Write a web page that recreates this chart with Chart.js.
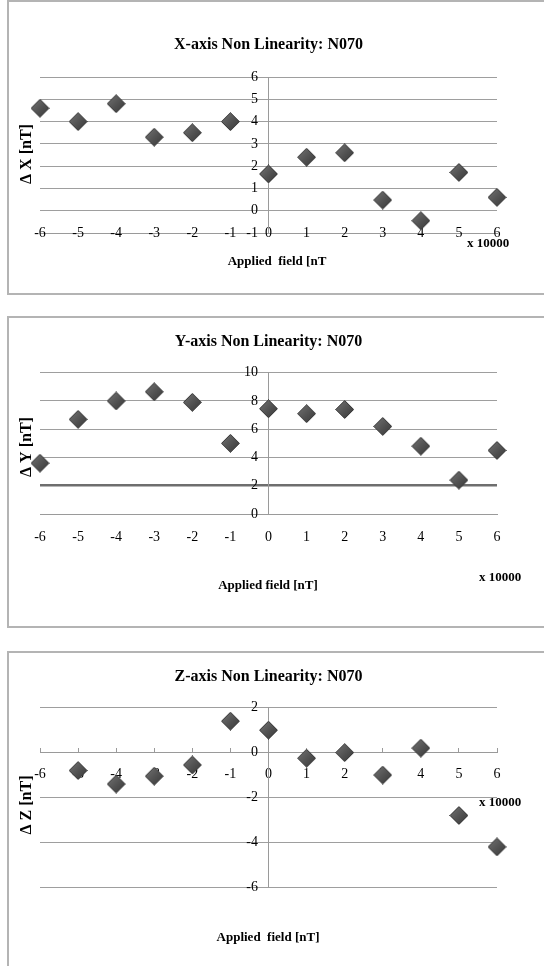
<!DOCTYPE html>
<html>
<head>
<meta charset="utf-8">
<script src="https://cdn.jsdelivr.net/npm/chart.js@4"></script>
<style>
  body { margin: 0; background: #fff; width: 544px; height: 966px; overflow: hidden; position: relative; }
  .box { position: absolute; left: 7px; width: 600px; border: 2px solid #b4b4b4; box-sizing: border-box; }
  canvas { position: absolute; left: 9px; }
</style>
</head>
<body>
<div class="box" style="top:0px;height:295px"></div>
<div class="box" style="top:316px;height:312px"></div>
<div class="box" style="top:651px;height:400px"></div>
<canvas id="chartX" width="535" height="290" style="top:2px"></canvas>
<canvas id="chartY" width="535" height="307" style="top:318px"></canvas>
<canvas id="chartZ" width="535" height="312" style="top:654px"></canvas>
<script>
const fieldSteps = [-6, -5, -4, -3, -2, -1, 0, 1, 2, 3, 4, 5, 6]
const dxValues = [4.6, 4.0, 4.8, 3.3, 3.5, 4.0, 1.65, 2.4, 2.6, 0.48, -0.45, 1.72, 0.6]
const dyValues = [3.6, 6.7, 8.0, 8.65, 7.9, 5.0, 7.45, 7.1, 7.4, 6.2, 4.8, 2.4, 4.5]
const dzValues = [null, -0.8, -1.4, -1.05, -0.55, 1.4, 1.0, -0.25, 0.0, -1.0, 0.2, -2.8, -4.2]

const serif = "'Liberation Serif', 'Times New Roman', serif"
Chart.defaults.font.family = serif
Chart.defaults.color = '#000'

// shaded diamond used as point style
function makeDiamond() {
    const size = 19
    const c = document.createElement('canvas')
    c.width = size
    c.height = size
    const g = c.getContext('2d')
    const h = size / 2
    const grad = g.createLinearGradient(0, 0, size, size)
    grad.addColorStop(0, '#767676')
    grad.addColorStop(0.5, '#545454')
    grad.addColorStop(1, '#363636')
    g.beginPath()
    g.moveTo(h, 0.5)
    g.lineTo(size - 0.5, h)
    g.lineTo(h, size - 0.5)
    g.lineTo(0.5, h)
    g.closePath()
    g.fillStyle = grad
    g.fill()
    g.strokeStyle = '#3a3a3a'
    g.lineWidth = 1
    g.stroke()
    return c
}
const diamond = makeDiamond()

const textLabels = {
    id: 'textLabels',
    afterDraw(chart, args, opts) {
        const ctx = chart.ctx
        for (const item of opts.items || []) {
            ctx.save()
            ctx.font = item.font
            ctx.fillStyle = '#000'
            ctx.textAlign = 'center'
            ctx.textBaseline = 'middle'
            ctx.translate(item.x, item.y)
            if (item.rotate) ctx.rotate(item.rotate)
            ctx.fillText(item.text, 0, 0)
            ctx.restore()
        }
    }
}

function makeData(values) {
    return fieldSteps.map((x, i) => ({ x: x, y: values[i] })).filter(p => p.y !== null)
}

function drawChart(id, cfg) {
    const grid = cfg.grid || {}
    const isDark = ctx => grid.dark !== undefined && ctx.tick && ctx.tick.value === grid.dark
    new Chart(document.getElementById(id), {
        type: 'scatter',
        data: {
            datasets: [{
                data: makeData(cfg.values),
                pointStyle: diamond,
                pointRadius: 9,
                clip: false
            }]
        },
        options: {
            responsive: false,
            animation: false,
            devicePixelRatio: 1,
            layout: { padding: { left: 31, right: 47, top: 0, bottom: cfg.padBottom } },
            plugins: {
                legend: { display: false },
                tooltip: { enabled: false },
                title: {
                    display: true,
                    text: cfg.title,
                    font: { size: 16, weight: 'bold' },
                    padding: cfg.titlePad
                },
                textLabels: { items: cfg.labels }
            },
            scales: {
                x: {
                    type: 'linear',
                    position: { y: cfg.xAt },
                    min: -6,
                    max: 6,
                    ticks: { stepSize: 1, padding: cfg.xPad, font: { size: 14 } },
                    grid: {
                        display: cfg.xTicks,
                        drawOnChartArea: false,
                        drawTicks: cfg.xTicks,
                        tickLength: -5,
                        color: '#9a9a9a'
                    },
                    border: { display: true, color: '#9a9a9a', width: 1 }
                },
                y: {
                    type: 'linear',
                    position: { x: 0 },
                    min: cfg.yMin,
                    max: cfg.yMax,
                    ticks: {
                        stepSize: cfg.yStep,
                        font: { size: 14 },
                        callback: v => v + '   '
                    },
                    grid: {
                        drawTicks: false,
                        color: ctx => isDark(ctx) ? '#6e6e6e' : '#9e9e9e',
                        lineWidth: ctx => isDark(ctx) ? 2.5 : 1
                    },
                    border: { display: true, color: '#9a9a9a', width: 1 }
                }
            }
        },
        plugins: [textLabels]
    })
}

const bold13 = 'bold 13px ' + serif
const bold16 = 'bold 16px ' + serif

drawChart('chartX', {
    title: 'X-axis Non Linearity: N070',
    values: dxValues,
    titlePad: { top: 33.4, bottom: 22.4 },
    padBottom: 59,
    xAt: -1, xPad: -8, xTicks: false,
    yMin: -1, yMax: 6, yStep: 1,
    labels: [
        { text: 'Δ X [nT]', x: 18, y: 152, font: bold16, rotate: -Math.PI / 2 },
        { text: 'Applied  field [nT', x: 268, y: 260, font: bold13 },
        { text: 'x 10000', x: 479, y: 242, font: bold13 }
    ]
})

drawChart('chartY', {
    title: 'Y-axis Non Linearity: N070',
    values: dyValues,
    titlePad: { top: 14.4, bottom: 21.1 },
    padBottom: 111,
    xAt: 0, xPad: 15, xTicks: false,
    yMin: 0, yMax: 10, yStep: 2,
    grid: { dark: 2 },
    labels: [
        { text: 'Δ Y [nT]', x: 18, y: 129, font: bold16, rotate: -Math.PI / 2 },
        { text: 'Applied field [nT]', x: 259, y: 268, font: bold13 },
        { text: 'x 10000', x: 491, y: 260, font: bold13 }
    ]
})

drawChart('chartZ', {
    title: 'Z-axis Non Linearity: N070',
    values: dzValues,
    titlePad: { top: 13.4, bottom: 21.1 },
    padBottom: 78.7,
    xAt: 0, xPad: 18, xTicks: true,
    yMin: -6, yMax: 2, yStep: 2,
    labels: [
        { text: 'Δ Z [nT]', x: 18, y: 151, font: bold16, rotate: -Math.PI / 2 },
        { text: 'Applied  field [nT]', x: 259, y: 284, font: bold13 },
        { text: 'x 10000', x: 491, y: 149, font: bold13 }
    ]
})
</script>
</body>
</html>
